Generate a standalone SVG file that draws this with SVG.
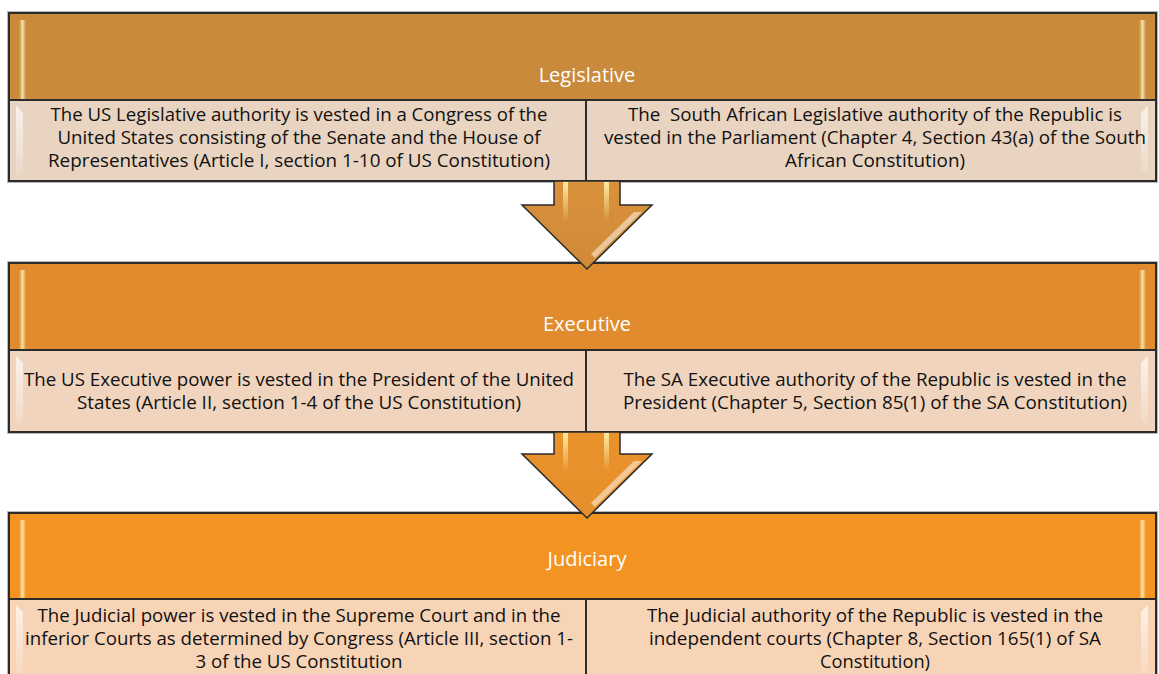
<svg xmlns="http://www.w3.org/2000/svg" width="1159" height="674" viewBox="0 0 1159 674">
  <defs>
    <style>
      .frame { stroke: #2b2b2b; stroke-width: 2; }
      .halo { fill: none; stroke: #b8b8b8; stroke-width: 4; }
      .head { fill: #ffffff; font-family: "Open Sans", "Liberation Sans", sans-serif; font-size: 20px; text-anchor: middle; }
      .body { fill: #111111; font-family: "Open Sans", "Liberation Sans", sans-serif; font-size: 18px; text-anchor: middle; white-space: pre; }
      .arrow { stroke: #2b2b2b; stroke-width: 1.5; stroke-linejoin: miter; }
      .glint { fill: #ffffff; opacity: 0.5; }
    </style>
    <linearGradient id="edgeL" x1="0" y1="0" x2="1" y2="0">
      <stop offset="0" stop-color="#fff6c0" stop-opacity="0"/>
      <stop offset="0.5" stop-color="#fff6c0" stop-opacity="0.8"/>
      <stop offset="1" stop-color="#fff6c0" stop-opacity="0"/>
    </linearGradient>
    <linearGradient id="glow" x1="0" y1="0" x2="0" y2="1">
      <stop offset="0" stop-color="#ffffff" stop-opacity="0.7"/>
      <stop offset="1" stop-color="#ffffff" stop-opacity="0.1"/>
    </linearGradient>
    <linearGradient id="arrowFill1" x1="0" y1="0" x2="0" y2="1">
      <stop offset="0" stop-color="#d9913c"/>
      <stop offset="1" stop-color="#d08a36"/>
    </linearGradient>
    <linearGradient id="arrowFill2" x1="0" y1="0" x2="0" y2="1">
      <stop offset="0" stop-color="#ea932c"/>
      <stop offset="1" stop-color="#e58f2c"/>
    </linearGradient>
    <linearGradient id="streak" x1="0" y1="0" x2="0" y2="1">
      <stop offset="0" stop-color="#fff0a8" stop-opacity="0.95"/>
      <stop offset="1" stop-color="#fff0a8" stop-opacity="0"/>
    </linearGradient>
  </defs>

  <rect width="1159" height="674" fill="#ffffff"/>

  <!-- Legislative branch -->
  <g id="legislative-header">
    <rect class="halo" x="9" y="13" width="1147" height="168"/>
    <rect class="frame" x="9" y="13" width="1147" height="87" fill="#c98a3c"/>
    <rect x="19" y="20" width="7" height="80" fill="url(#edgeL)"/>
    <rect x="1139" y="20" width="7" height="80" fill="url(#edgeL)"/>
    <text class="head" x="587" y="82">Legislative</text>
  </g>
  <g id="legislative-us">
    <rect class="frame" x="9" y="100" width="577" height="81" fill="#e9d4c1"/>
    <path d="M16,106 L23,113 L23,170 L16,176 Z" fill="url(#glow)"/>
    <text class="body" x="299" y="121" textLength="497" lengthAdjust="spacingAndGlyphs">The US Legislative authority is vested in a Congress of the</text>
    <text class="body" x="299" y="144" textLength="483" lengthAdjust="spacingAndGlyphs">United States consisting of the Senate and the House of</text>
    <text class="body" x="299" y="167" textLength="502" lengthAdjust="spacingAndGlyphs">Representatives (Article I, section 1-10 of US Constitution)</text>
  </g>
  <g id="legislative-sa">
    <rect class="frame" x="586" y="100" width="570" height="81" fill="#e9d4c1"/>
    <path d="M1148,106 L1141,113 L1141,170 L1148,176 Z" fill="url(#glow)"/>
    <text class="body" x="875" y="121" textLength="494" lengthAdjust="spacingAndGlyphs">The  South African Legislative authority of the Republic is</text>
    <text class="body" x="875" y="144" textLength="542" lengthAdjust="spacingAndGlyphs">vested in the Parliament (Chapter 4, Section 43(a) of the South</text>
    <text class="body" x="875" y="167" textLength="180" lengthAdjust="spacingAndGlyphs">African Constitution)</text>
  </g>

  <!-- Executive branch -->
  <g id="executive-header">
    <rect class="halo" x="9" y="263" width="1147" height="169"/>
    <rect class="frame" x="9" y="263" width="1147" height="87" fill="#e08c2e"/>
    <rect x="19" y="270" width="7" height="80" fill="url(#edgeL)"/>
    <rect x="1139" y="270" width="7" height="80" fill="url(#edgeL)"/>
    <text class="head" x="587" y="331">Executive</text>
  </g>
  <g id="executive-us">
    <rect class="frame" x="9" y="350" width="577" height="82" fill="#f0d4bd"/>
    <path d="M16,356 L23,363 L23,421 L16,427 Z" fill="url(#glow)"/>
    <text class="body" x="299" y="386" textLength="550" lengthAdjust="spacingAndGlyphs">The US Executive power is vested in the President of the United</text>
    <text class="body" x="299" y="409" textLength="444" lengthAdjust="spacingAndGlyphs">States (Article II, section 1-4 of the US Constitution)</text>
  </g>
  <g id="executive-sa">
    <rect class="frame" x="586" y="350" width="570" height="82" fill="#f0d4bd"/>
    <path d="M1148,356 L1141,363 L1141,421 L1148,427 Z" fill="url(#glow)"/>
    <text class="body" x="875" y="386" textLength="503" lengthAdjust="spacingAndGlyphs">The SA Executive authority of the Republic is vested in the</text>
    <text class="body" x="875" y="409" textLength="504" lengthAdjust="spacingAndGlyphs">President (Chapter 5, Section 85(1) of the SA Constitution)</text>
  </g>

  <!-- Judiciary branch -->
  <g id="judiciary-header">
    <rect class="halo" x="9" y="513" width="1147" height="170"/>
    <rect class="frame" x="9" y="513" width="1147" height="86" fill="#f39322"/>
    <rect x="19" y="520" width="7" height="79" fill="url(#edgeL)"/>
    <rect x="1139" y="520" width="7" height="79" fill="url(#edgeL)"/>
    <text class="head" x="587" y="566">Judiciary</text>
  </g>
  <g id="judiciary-us">
    <rect class="frame" x="9" y="599" width="577" height="84" fill="#f8d4b7"/>
    <path d="M16,605 L23,612 L23,674 L16,674 Z" fill="url(#glow)"/>
    <text class="body" x="299" y="622" textLength="523" lengthAdjust="spacingAndGlyphs">The Judicial power is vested in the Supreme Court and in the</text>
    <text class="body" x="299" y="645" textLength="548" lengthAdjust="spacingAndGlyphs">inferior Courts as determined by Congress (Article III, section 1-</text>
    <text class="body" x="299" y="668" textLength="207" lengthAdjust="spacingAndGlyphs">3 of the US Constitution</text>
  </g>
  <g id="judiciary-sa">
    <rect class="frame" x="586" y="599" width="570" height="84" fill="#f8d4b7"/>
    <path d="M1148,605 L1141,612 L1141,674 L1148,674 Z" fill="url(#glow)"/>
    <text class="body" x="875" y="622" textLength="456" lengthAdjust="spacingAndGlyphs">The Judicial authority of the Republic is vested in the</text>
    <text class="body" x="875" y="645" textLength="452" lengthAdjust="spacingAndGlyphs">independent courts (Chapter 8, Section 165(1) of SA</text>
    <text class="body" x="875" y="668" textLength="110" lengthAdjust="spacingAndGlyphs">Constitution)</text>
  </g>

  <!-- Downward flow arrows between branches -->
  <g id="connectors">
    <g id="arrow-legislative-executive">
      <path class="arrow" fill="url(#arrowFill1)" d="M554,181 L620,181 L620,205 L652,205 L587,269 L522,205 L554,205 Z"/>
      <rect x="563" y="182" width="5" height="40" fill="url(#streak)"/>
      <rect x="604" y="182" width="5" height="40" fill="url(#streak)"/>
      <path d="M634,212 L642,212 L595,258 L591,254 Z" class="glint"/>
    </g>
    <g id="arrow-executive-judiciary">
      <path class="arrow" fill="url(#arrowFill2)" d="M554,432 L620,432 L620,454 L652,454 L587,518 L522,454 L554,454 Z"/>
      <rect x="563" y="433" width="5" height="38" fill="url(#streak)"/>
      <rect x="604" y="433" width="5" height="38" fill="url(#streak)"/>
      <path d="M634,461 L642,461 L595,507 L591,503 Z" class="glint"/>
    </g>
  </g>
</svg>
